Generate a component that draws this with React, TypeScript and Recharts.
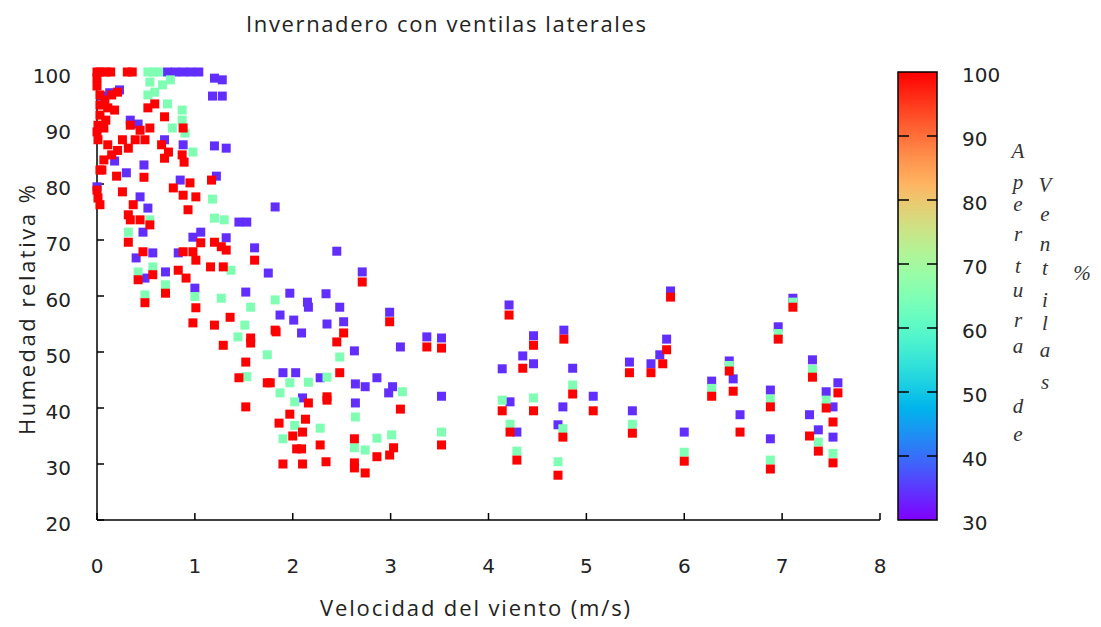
import React from 'react'
import { ScatterChart, Scatter, XAxis, YAxis } from 'recharts'

// ticks
const windTicks = [0, 1, 2, 3, 4, 5, 6, 7, 8]
const humidityTicks = [20, 30, 40, 50, 60, 70, 80, 90, 100]
const apertureTicks = [30, 40, 50, 60, 70, 80, 90, 100]

// [wind m/s, humidity %] for each vent opening group
const vent34: [number, number][] = [
  [0.72, 100], [0.8, 100], [0.88, 100], [0.96, 100], [1.04, 100],
  [0.05, 95.7], [0.13, 96.3], [0.23, 96.8], [0.18, 84.1], [0, 79.5], [0.3, 82], [0.48, 83.4],
  [0.34, 91.4], [0.42, 90.7], [0.69, 87.9], [0.88, 87], [1.2, 98.9], [1.28, 98.6], [1.18, 95.7],
  [1.28, 95.7], [1.2, 86.8], [1.32, 86.4], [1.22, 81.4], [0.85, 80.7], [0.44, 77.7], [0.52, 75.7],
  [0.47, 71.4], [0.57, 67.7], [0.4, 66.8], [0.49, 63.2], [0.7, 64.3], [0.83, 67.7], [0.98, 70.5],
  [1.06, 71.4], [1.32, 70.4], [1.0, 61.4], [1.52, 60.7], [1.61, 68.6], [1.75, 64.1], [1.45, 73.2],
  [1.53, 73.2], [1.82, 75.9], [2.45, 68], [2.71, 64.3], [1.97, 60.5], [2.15, 58.9], [2.16, 58],
  [2.34, 60.4], [1.87, 56.6], [2.01, 55.7], [2.09, 53.4], [2.48, 58], [2.52, 55.4], [2.35, 55],
  [2.99, 57.1], [2.63, 50.2], [3.1, 50.9], [3.37, 52.7], [3.52, 52.5], [1.9, 46.3], [2.03, 46.3],
  [2.28, 45.4], [2.64, 44.3], [2.74, 43.8], [2.86, 45.4], [3.02, 43.8], [2.98, 42.7], [3.52, 42.1],
  [2.1, 41.8], [2.64, 40.9],
  [4.21, 58.4], [4.14, 47], [4.46, 52.9], [4.35, 49.3], [4.46, 47.9], [4.77, 53.9], [4.86, 47.1],
  [5.07, 42.1], [4.22, 41.1], [4.76, 40.2], [4.29, 35.7], [4.71, 37], [5.44, 48.2], [5.66, 47.9],
  [5.47, 39.5], [5.75, 49.5], [5.86, 60.9], [5.82, 52.3], [6.0, 35.7], [6.28, 44.8], [6.46, 48.4],
  [6.5, 45.2], [6.57, 38.8], [7.11, 59.6], [6.96, 54.5], [6.88, 43.2], [6.88, 34.5], [7.31, 48.6],
  [7.45, 42.9], [7.57, 44.5], [7.52, 40.2], [7.52, 34.8], [7.28, 38.8], [7.37, 36.1],
]

const vent65: [number, number][] = [
  [0.52, 100], [0.58, 100], [0.63, 100],
  [0.54, 98.2], [0.59, 96.4], [0.52, 95.9], [0.67, 97.7], [0.75, 98.6], [0.72, 94.3], [0.87, 91.4],
  [0.77, 90], [0.9, 89.1], [0.98, 85.7], [1.18, 77.3], [1.2, 73.9], [0.87, 93.2],
  [0.32, 71.4], [0.54, 73.6], [0.42, 64.3], [0.57, 65.2], [0.7, 62], [0.49, 60.2], [1.0, 59.9],
  [1.27, 59.6], [1.57, 58], [1.51, 54.8], [1.82, 59.3], [1.3, 73.6], [1.37, 64.6], [1.44, 52.7],
  [1.74, 49.5], [1.53, 45.6],
  [2.48, 49.1], [1.97, 44.5], [2.16, 44.6], [2.35, 45.5], [3.12, 42.9], [1.87, 42.7], [2.02, 41.1],
  [2.64, 38.4], [2.02, 36.9], [2.28, 36.4], [1.9, 34.5], [2.63, 32.9], [2.86, 34.6], [3.01, 35.2],
  [2.74, 32.5], [3.52, 35.7],
  [4.86, 44.1], [4.14, 41.4], [4.46, 41.8], [4.22, 37.1], [4.76, 36.3], [4.29, 32.3], [4.71, 30.4],
  [5.47, 37.1], [6.0, 32.1], [6.88, 30.7], [7.52, 31.9], [7.37, 33.9], [6.28, 43.5], [6.46, 47.6],
  [6.88, 41.6], [6.96, 53.3], [7.45, 41.4], [7.31, 46.9], [7.11, 58.9],
]

const vent100: [number, number][] = [
  [0, 100], [0.03, 100], [0.09, 100], [0.14, 100], [0.31, 100], [0.36, 100],
  [0, 99], [0, 97.5], [0.03, 95.9], [0.08, 95], [0.15, 95.9], [0.21, 96.4], [0.03, 94.1],
  [0.11, 93.6], [0.18, 93.2], [0.03, 92.3], [0.09, 91.4], [0.01, 90.5], [0.07, 90], [0, 89.3],
  [0.01, 87.9], [0.11, 87], [0.21, 86], [0.07, 84.3], [0.15, 85.2], [0.26, 87.9], [0.03, 82.5],
  [0.2, 81.4], [0.01, 77.5], [0.03, 76.3], [0, 78.9],
  [0.34, 90.5], [0.44, 89.6], [0.54, 90], [0.39, 87.9], [0.49, 87.9], [0.32, 86.4], [0.52, 93.6],
  [0.59, 94.3], [0.69, 92], [0.88, 90], [0.66, 87], [0.73, 85.7], [0.69, 84.6], [0.87, 85.2],
  [0.89, 83.9], [0.48, 81.2], [0.05, 82.5], [1.17, 80.7], [0.78, 79.3], [0.88, 78], [0.95, 80.2],
  [1.01, 77.7], [0.26, 78.6], [0.37, 76.3], [0.32, 74.5], [0.44, 73.6], [0.93, 75.4],
  [0.34, 73.6], [0.32, 69.6], [0.54, 72.7], [0.47, 67.9], [0.42, 62.9], [0.57, 63.8], [0.7, 60.5],
  [0.49, 58.8], [0.88, 67.9], [0.98, 67.9], [1.01, 66.4], [0.83, 64.6], [0.91, 63.2], [1.06, 69.5],
  [1.2, 69.6], [1.27, 68.8], [1.32, 68.2], [1.16, 65.2], [1.29, 65.2], [1.01, 57.9], [0.98, 55.2],
  [1.2, 54.8], [1.36, 56.2], [1.61, 66.4], [1.57, 52.5], [1.82, 53.9],
  [2.71, 62.5], [1.83, 53.6], [2.52, 53.4], [2.45, 51.8], [2.99, 55.4], [3.37, 50.9], [3.52, 50.7],
  [2.48, 46.3], [2.16, 40.9], [2.35, 42], [2.35, 41.4], [3.1, 39.8], [1.97, 38.9], [1.86, 37.3],
  [2.13, 38], [2.1, 35.7], [2, 35], [2.28, 33.4], [2.04, 32.7], [2.09, 32.7], [2.63, 34.5],
  [2.86, 31.3], [2.99, 31.6], [3.03, 32.9], [1.9, 30], [2.1, 30], [2.34, 30.4], [2.63, 30.2],
  [2.63, 29.3], [2.74, 28.4], [3.52, 33.4], [1.77, 44.5],
  [1.29, 51.2], [1.57, 51.6], [1.52, 48.2], [1.45, 45.4], [1.74, 44.5], [1.52, 40.2],
  [4.21, 56.6], [4.46, 51.2], [4.35, 47.1], [4.77, 52.3], [4.86, 42.5], [5.07, 39.5], [4.14, 39.5],
  [4.46, 39.5], [4.22, 35.7], [4.76, 34.8], [4.29, 30.7], [4.71, 28], [5.44, 46.3], [5.66, 46.3],
  [5.47, 35.5], [5.86, 59.8], [5.82, 50.4], [5.78, 47.9], [6.0, 30.5], [6.28, 42.1], [6.46, 46.6],
  [6.5, 43], [6.57, 35.7], [7.11, 58], [6.96, 52.3], [6.88, 40.2], [6.88, 29.1], [7.31, 45.5],
  [7.45, 40], [7.57, 42.7], [7.52, 37.5], [7.52, 30.2], [7.28, 35], [7.37, 32.3],
]

// gnuplot-like rainbow palette (rgbformulae 33,13,10)
const apertureColor = (v: number) => {
  const t = Math.min(1, Math.max(0, (v - 30) / 70))
  const r = Math.min(1, Math.abs(2 * t - 0.5))
  const g = Math.max(0, Math.sin(Math.PI * t))
  const b = Math.max(0, Math.cos((Math.PI / 2) * t))
  const h = (c: number) => Math.round(c * 255).toString(16).padStart(2, '0')
  return `#${h(r)}${h(g)}${h(b)}`
}

const points = [
  ...vent34.map(([wind, hum]) => ({ wind, hum, apertura: 34 })),
  ...vent65.map(([wind, hum]) => ({ wind, hum, apertura: 65 })),
  ...vent100.map(([wind, hum]) => ({ wind, hum, apertura: 100 })),
]

const SquareDot = (props: any) => {
  const { cx, cy, payload } = props
  if (cx == null || cy == null) return null
  return <rect x={cx - 4.5} y={cy - 4.5} width={9} height={9} fill={apertureColor(payload.apertura)} />
}

const TICK_FONT = { fontSize: 20, fill: '#222', fontFamily: 'DejaVu Sans' }
const LABEL_FONT = 'Open Sans'

// colorbar geometry
const CB = { x: 898, y: 72, w: 39, h: 448 }
const cbY = (v: number) => CB.y + CB.h - ((v - 30) / 70) * CB.h

const col1 = [['A', 153], ['p', 184], ['e', 206], ['r', 236], ['t', 268], ['u', 292], ['r', 322], ['a', 348], ['d', 408], ['e', 436]] as const
const col2 = [['V', 187], ['e', 216], ['n', 246], ['t', 270], ['i', 302], ['l', 325], ['a', 352], ['s', 384]] as const

const legendLetter = { textAnchor: 'middle' as const, dominantBaseline: 'middle' as const, fontSize: 21, fontStyle: 'italic', fontFamily: 'Liberation Serif', fill: '#333' }

export default function App() {
  const stops = Array.from({ length: 21 }, (_, i) => i / 20)
  return (
    <div style={{ position: 'absolute', left: 0, top: 0, width: 1101, height: 627, background: '#fff' }}>
      <ScatterChart width={1101} height={627} margin={{ top: 72, right: 221, bottom: 47, left: 27 }}>
        <XAxis
          type="number"
          dataKey="wind"
          domain={[0, 8]}
          ticks={windTicks}
          height={60}
          tickSize={-7}
          tickMargin={46}
          tick={TICK_FONT}
          axisLine={{ stroke: '#000', strokeWidth: 1.5 }}
          tickLine={{ stroke: '#000', strokeWidth: 1.5 }}
        />
        <XAxis
          xAxisId="top"
          orientation="top"
          type="number"
          domain={[0, 8]}
          ticks={windTicks}
          height={0}
          tickSize={-7}
          tick={false}
          axisLine={{ stroke: '#000', strokeWidth: 1.5 }}
          tickLine={{ stroke: '#000', strokeWidth: 1.5 }}
        />
        <YAxis
          type="number"
          dataKey="hum"
          domain={[20, 100]}
          ticks={humidityTicks}
          width={70}
          tickSize={-7}
          tickMargin={33}
          tick={{ ...TICK_FONT, dy: 4 }}
          axisLine={{ stroke: '#000', strokeWidth: 1.5 }}
          tickLine={{ stroke: '#000', strokeWidth: 1.5 }}
        />
        <YAxis
          yAxisId="right"
          orientation="right"
          type="number"
          domain={[20, 100]}
          ticks={humidityTicks}
          width={0}
          tickSize={-7}
          tick={false}
          axisLine={{ stroke: '#000', strokeWidth: 1.5 }}
          tickLine={{ stroke: '#000', strokeWidth: 1.5 }}
        />
        <Scatter data={points} shape={<SquareDot />} isAnimationActive={false} />
      </ScatterChart>

      <svg width={1101} height={627} style={{ position: 'absolute', left: 0, top: 0, pointerEvents: 'none' }}>
        <defs>
          <linearGradient id="apertureGrad" x1="0" y1="1" x2="0" y2="0">
            {stops.map((s) => (
              <stop key={s} offset={`${s * 100}%`} stopColor={apertureColor(30 + s * 70)} />
            ))}
          </linearGradient>
        </defs>
        <text x={446} y={32} textAnchor="middle" fontSize={22} fontFamily={LABEL_FONT} fill="#222" textLength={400} lengthAdjust="spacing">
          Invernadero con ventilas laterales
        </text>
        <text x={475} y={616} textAnchor="middle" fontSize={22} fontFamily={LABEL_FONT} fill="#222" textLength={310} lengthAdjust="spacing">
          Velocidad del viento (m/s)
        </text>
        <text
          transform="translate(35,310) rotate(-90)"
          textAnchor="middle"
          fontSize={22}
          fontFamily={LABEL_FONT}
          fill="#222"
          textLength={250}
          lengthAdjust="spacing"
        >
          Humedad relativa %
        </text>

        <rect x={CB.x} y={CB.y} width={CB.w} height={CB.h} fill="url(#apertureGrad)" stroke="#000" strokeWidth={1.5} />
        {apertureTicks.map((v) => (
          <g key={v}>
            {v > 30 && v < 100 && (
              <>
                <line x1={CB.x} x2={CB.x + 11} y1={cbY(v)} y2={cbY(v)} stroke="#000" strokeWidth={1.5} />
                <line x1={CB.x + CB.w - 10} x2={CB.x + CB.w} y1={cbY(v)} y2={cbY(v)} stroke="#000" strokeWidth={1.5} />
              </>
            )}
            <text x={962} y={cbY(v) + 4} dominantBaseline="middle" {...TICK_FONT}>
              {v}
            </text>
          </g>
        ))}
        {col1.map(([ch, y], i) => (
          <text key={'a' + i} x={1018} y={y} {...legendLetter}>
            {ch}
          </text>
        ))}
        {col2.map(([ch, y], i) => (
          <text key={'b' + i} x={1045} y={y} {...legendLetter}>
            {ch}
          </text>
        ))}
        <text x={1082} y={275} {...legendLetter}>
          %
        </text>
      </svg>
    </div>
  )
}
